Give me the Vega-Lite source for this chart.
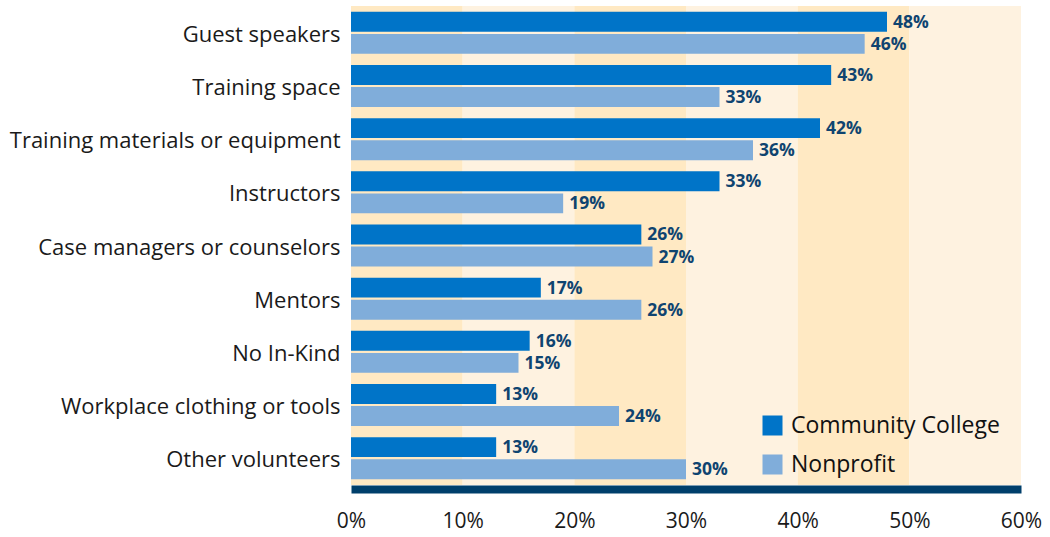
{
  "$schema": "https://vega.github.io/schema/vega-lite/v6.json",
  "width": 670,
  "height": 479,
  "autosize": {"type": "none"},
  "padding": {"left": 351, "top": 6, "right": 29, "bottom": 52},
  "background": "white",
  "config": {"view": {"stroke": null}, "font": "Open Sans"},
  "datasets": {
    "bands": [
      {"start": 0, "end": 10, "shade": "dark"},
      {"start": 10, "end": 20, "shade": "light"},
      {"start": 20, "end": 30, "shade": "dark"},
      {"start": 30, "end": 40, "shade": "light"},
      {"start": 40, "end": 50, "shade": "dark"},
      {"start": 50, "end": 60, "shade": "light"}
    ],
    "bars": [
      {"item": "Guest speakers", "group": "Community College", "value": 48},
      {"item": "Guest speakers", "group": "Nonprofit", "value": 46},
      {"item": "Training space", "group": "Community College", "value": 43},
      {"item": "Training space", "group": "Nonprofit", "value": 33},
      {"item": "Training materials or equipment", "group": "Community College", "value": 42},
      {"item": "Training materials or equipment", "group": "Nonprofit", "value": 36},
      {"item": "Instructors", "group": "Community College", "value": 33},
      {"item": "Instructors", "group": "Nonprofit", "value": 19},
      {"item": "Case managers or counselors", "group": "Community College", "value": 26},
      {"item": "Case managers or counselors", "group": "Nonprofit", "value": 27},
      {"item": "Mentors", "group": "Community College", "value": 17},
      {"item": "Mentors", "group": "Nonprofit", "value": 26},
      {"item": "No In-Kind", "group": "Community College", "value": 16},
      {"item": "No In-Kind", "group": "Nonprofit", "value": 15},
      {"item": "Workplace clothing or tools", "group": "Community College", "value": 13},
      {"item": "Workplace clothing or tools", "group": "Nonprofit", "value": 24},
      {"item": "Other volunteers", "group": "Community College", "value": 13},
      {"item": "Other volunteers", "group": "Nonprofit", "value": 30}
    ]
  },
  "layer": [
    {
      "data": {"name": "bands"},
      "mark": {"type": "rect"},
      "encoding": {
        "x": {"field": "start", "type": "quantitative", "scale": {"domain": [0, 60]}},
        "x2": {"field": "end"},
        "fill": {"field": "shade", "type": "nominal", "scale": {"domain": ["dark", "light"], "range": ["#FFE9C3", "#FEF2E0"]}, "legend": null}
      }
    },
    {
      "data": {"name": "bars"},
      "mark": {"type": "bar"},
      "encoding": {
        "y": {"field": "item", "type": "nominal", "sort": null, "scale": {"paddingInner": 0.21, "paddingOuter": 0.11},
          "axis": {"title": null, "domain": false, "ticks": false, "labelFontSize": 22, "labelColor": "#1a1a1a", "labelPadding": 11, "labelLimit": 400, "labelFont": "Open Sans", "labelOffset": 2}},
        "yOffset": {"field": "group", "type": "nominal", "sort": ["Community College", "Nonprofit"], "scale": {"paddingInner": 0.1, "paddingOuter": 0}},
        "x": {"field": "value", "type": "quantitative", "scale": {"domain": [0, 60]},
          "axis": {"title": null, "grid": false, "ticks": false, "values": [0, 10, 20, 30, 40, 50, 60], "labelExpr": "datum.value + '%'", "labelFontSize": 21, "labelColor": "#1a1a1a", "labelPadding": 21, "domainColor": "#003F6B", "domainWidth": 8, "offset": 4, "labelFlush": false, "labelFont": "Open Sans"}},
        "color": {"field": "group", "type": "nominal", "scale": {"domain": ["Community College", "Nonprofit"], "range": ["#0074C8", "#80ADDA"]},
          "legend": {"title": null, "orient": "none", "legendX": 410, "legendY": 408, "padding": 0, "symbolType": "square", "symbolSize": 400, "symbolStrokeWidth": 0, "labelFontSize": 23, "labelColor": "#111111", "labelOffset": 7, "labelLimit": 400, "rowPadding": 15, "labelFont": "Open Sans"}}
      }
    },
    {
      "data": {"name": "bars"},
      "transform": [{"calculate": "datum.value + '%'", "as": "label"}],
      "mark": {"type": "text", "align": "left", "baseline": "middle", "dx": 6, "dy": 1, "fontSize": 17.5, "fontWeight": "bold", "color": "#0F4470", "font": "Open Sans"},
      "encoding": {
        "y": {"field": "item", "type": "nominal", "sort": null},
        "yOffset": {"field": "group", "type": "nominal", "sort": ["Community College", "Nonprofit"]},
        "x": {"field": "value", "type": "quantitative"},
        "text": {"field": "label", "type": "nominal"}
      }
    }
  ]
}
